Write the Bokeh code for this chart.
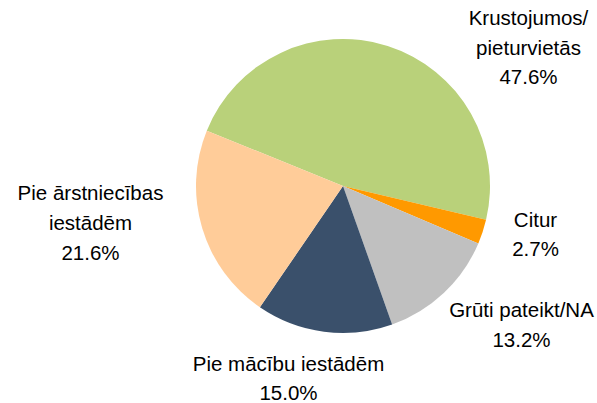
import math
from bokeh.plotting import figure
from bokeh.models import Range1d, ColumnDataSource
from bokeh.core.properties import value
from bokeh.embed import file_html
from bokeh.resources import INLINE

categories = ["Krustojumos/\npieturvietās", "Citur", "Grūti pateikt/NA", "Pie mācību iestādēm", "Pie ārstniecības\niestādēm"]
values = [47.6, 2.7, 13.2, 15.0, 21.6]
colors = ["#B9D17A", "#FF9900", "#C0C0C0", "#3A506B", "#FFCC99"]

W, H = 597, 403
p = figure(width=W, height=H, output_backend="svg", toolbar_location=None,
           x_range=Range1d(0, W), y_range=Range1d(0, H), min_border=0)
p.axis.visible = False
p.grid.visible = False
p.outline_line_color = None
p.background_fill_color = "white"

def py(page_y):
    return H - page_y

cx, cy, r = 342.5, py(185.5), 147
first_cw = 292.1
total = sum(values)
starts, ends = [], []
cum = 0.0
for v in values:
    s_cw = first_cw + cum / total * 360
    e_cw = first_cw + (cum + v) / total * 360
    starts.append(math.radians(90 - s_cw))
    ends.append(math.radians(90 - e_cw))
    cum += v

src = ColumnDataSource(dict(start=starts, end=ends, color=colors))
p.wedge(x=cx, y=cy, radius=r, start_angle="start", end_angle="end", direction="clock",
        fill_color="color", line_color=None, source=src)

# label layout: (center x page, first line y page, line gap)
layout = [(528, 17, 29.5), (535, 219, 29), (521, 309, 29.5), (288, 363, 28.5), (90, 192, 30)]
xs, ys, ts = [], [], []
for cat, v, (lx, ly, gap) in zip(categories, values, layout):
    lines = cat.split("\n") + [f"{v:.1f}%"]
    for i, t in enumerate(lines):
        xs.append(lx)
        ys.append(py(ly + i * gap))
        ts.append(t)

p.text(x=xs, y=ys, text=ts, text_align="center", text_baseline="middle",
       text_font=value("Liberation Sans"), text_font_size="20.5px", text_color="#000000")

open("out.html", "w").write(file_html(p, INLINE))
